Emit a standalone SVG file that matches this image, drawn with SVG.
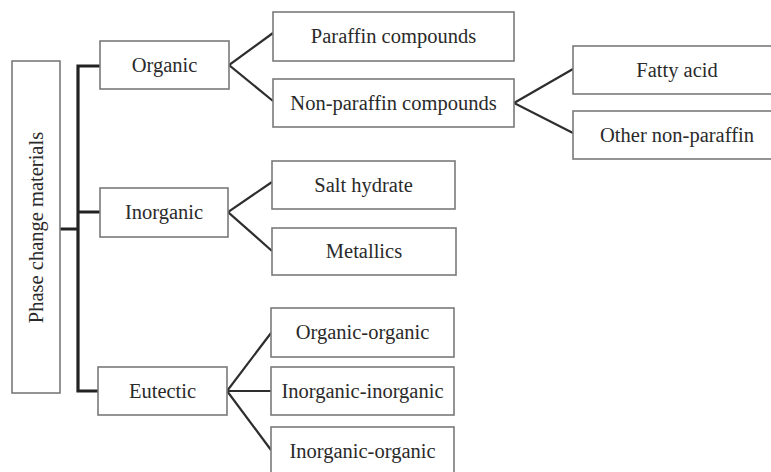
<svg xmlns="http://www.w3.org/2000/svg" width="771" height="472" viewBox="0 0 771 472">
<style>
.box{fill:#fff;stroke:#7a7a7a;stroke-width:1.6}
.t{font-family:"Liberation Serif","Times New Roman",serif;font-size:20.5px;fill:#2a2a2a;text-anchor:middle}
.c{fill:none;stroke:#2e2e2e;stroke-width:2.2;stroke-linejoin:miter}
.trunk{fill:none;stroke:#222;stroke-width:3.2}
</style>
<rect width="771" height="472" fill="#fff"/>
<g id="connectors">
<path class="trunk" d="M60 229H78M100 66H78V391H99M78 212H100"/>
<path class="c" d="M273 33L229 65L273 101"/>
<path class="c" d="M272 182L228 212L272 251"/>
<path class="c" d="M573 69L514 103L573 133"/>
<path class="c" d="M271 333L227 391L271 450M227 391H271"/>
</g>
<g id="pcm"><rect class="box" x="12" y="61" width="48" height="332"/><text class="t" transform="translate(43 227.5) rotate(-90)" x="0" y="0">Phase change materials</text></g>
<g id="organic"><rect class="box" x="100" y="41" width="129" height="48"/><text class="t" x="164.5" y="72">Organic</text></g>
<g id="inorganic"><rect class="box" x="100" y="188" width="128" height="49"/><text class="t" x="164" y="219">Inorganic</text></g>
<g id="eutectic"><rect class="box" x="98" y="367" width="129" height="48"/><text class="t" x="162.5" y="398">Eutectic</text></g>
<g id="paraffin"><rect class="box" x="273" y="12" width="241" height="49"/><text class="t" x="393.5" y="43">Paraffin compounds</text></g>
<g id="nonparaffin"><rect class="box" x="273" y="79" width="241" height="48"/><text class="t" x="393.5" y="110">Non-paraffin compounds</text></g>
<g id="fatty"><rect class="box" x="573" y="46" width="210" height="48"/><text class="t" x="677" y="77">Fatty acid</text></g>
<g id="othernp"><rect class="box" x="573" y="111" width="210" height="48"/><text class="t" x="677" y="142">Other non-paraffin</text></g>
<g id="salt"><rect class="box" x="272" y="161" width="183" height="48"/><text class="t" x="363.5" y="192">Salt hydrate</text></g>
<g id="metallics"><rect class="box" x="272" y="228" width="184" height="47"/><text class="t" x="364" y="258">Metallics</text></g>
<g id="oo"><rect class="box" x="271" y="308" width="183" height="49"/><text class="t" x="362.5" y="339">Organic-organic</text></g>
<g id="ii"><rect class="box" x="271" y="367" width="183" height="48"/><text class="t" x="362.5" y="398">Inorganic-inorganic</text></g>
<g id="io"><rect class="box" x="271" y="427" width="183" height="60"/><text class="t" x="362.5" y="458">Inorganic-organic</text></g>
</svg>
